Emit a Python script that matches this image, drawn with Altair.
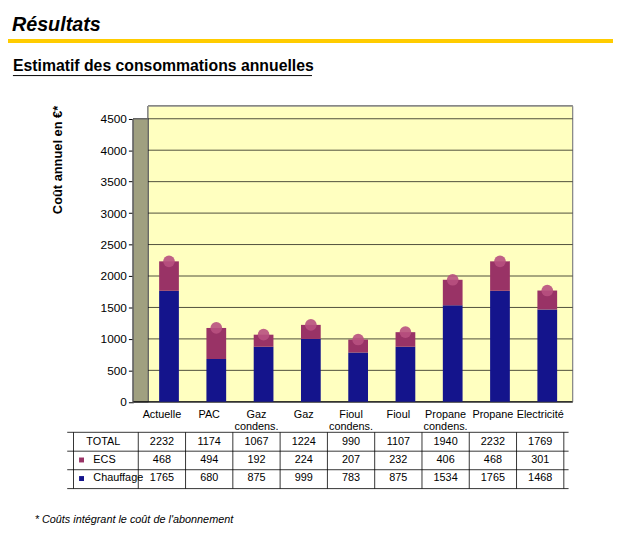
import pandas as pd
import altair as alt

categories = ['Actuelle', 'PAC', 'Gaz\ncondens.', 'Gaz', 'Fioul\ncondens.', 'Fioul',
              'Propane\ncondens.', 'Propane', 'Electricité']
total = [2232, 1174, 1067, 1224, 990, 1107, 1940, 2232, 1769]
ecs = [468, 494, 192, 224, 207, 232, 406, 468, 301]
chauffage = [1765, 680, 875, 999, 783, 875, 1534, 1765, 1468]

df = pd.DataFrame({
    'cat': categories,
    'pos': [i + 0.5 for i in range(9)],
    'barpos': [i + 0.65 for i in range(9)],
    'total': total,
    'ecs': ecs,
    'chauffage': chauffage,
})
df['top'] = df['chauffage'] + df['ecs']

W, H = 445, 427
FONT = 'Liberation Sans'
xs = alt.Scale(domain=[0, 9.08], nice=False, zero=False)
ys = alt.Scale(domain=[-2000, 4700], nice=False, zero=False)
base = alt.Chart(df)

wall = base.mark_rect(color='#FFFFC0', stroke='#888888').encode(
    x=alt.value(15), x2=alt.value(W), y=alt.datum(0, scale=ys), y2=alt.value(0))
side = base.mark_rect(color='#A0A080', stroke='#666666').encode(
    x=alt.value(0), x2=alt.value(15), y=alt.datum(0, scale=ys), y2=alt.value(13))
grid = alt.Chart(pd.DataFrame({'v': list(range(500, 4501, 500))})).mark_rule(
    color='black', strokeWidth=0.7).encode(
    y=alt.Y('v:Q', scale=ys), x=alt.value(15), x2=alt.value(W))
floor = alt.Chart(pd.DataFrame({'v': [0]})).mark_rule(color='black').encode(
    y=alt.Y('v:Q', scale=ys,
            axis=alt.Axis(values=list(range(0, 4501, 500)), title='Coût annuel  en €*',
                          format='d',
                          titleFont=FONT, titleFontSize=13, titleFontWeight='bold',
                          labelFont=FONT, labelFontSize=12, labelColor='black',
                          titleColor='black', grid=False, domain=False, tickColor='black',
                          titleY=54, titleX=-70)),
    x=alt.value(0), x2=alt.value(W))

heat = base.mark_bar(color='#14148C', size=20).encode(
    x=alt.X('barpos:Q', scale=xs, axis=None),
    y=alt.Y('chauffage:Q', scale=ys), y2=alt.datum(0))
hot = base.mark_bar(color='#993366', size=20).encode(
    x=alt.X('barpos:Q', scale=xs), y=alt.Y('top:Q', scale=ys), y2='chauffage:Q')
caps = base.mark_point(shape='circle', filled=True, color='#B8507F', size=140,
                       opacity=0.9).encode(
    x=alt.X('barpos:Q', scale=xs), y=alt.Y('top:Q', scale=ys))

labels = base.mark_text(font=FONT, fontSize=11, baseline='top', lineHeight=12).transform_calculate(
    lines="split(datum.cat, '\\n')").encode(
    x=alt.X('pos:Q', scale=xs), y=alt.datum(-120, scale=ys), text='lines:N')


def row(field, yv):
    return base.mark_text(font=FONT, fontSize=11).encode(
        x=alt.X('pos:Q', scale=xs), y=alt.datum(yv, scale=ys), text=f'{field}:Q')


rows = row('total', -640) + row('ecs', -925) + row('chauffage', -1220)

heads = alt.Chart(pd.DataFrame({
    'p': [-1.1, -0.95, -0.95], 'v': [-640, -925, -1220],
    't': ['TOTAL', 'ECS', 'Chauffage']})).mark_text(
    font=FONT, fontSize=11, align='left').encode(
    x=alt.X('p:Q', scale=xs), y=alt.Y('v:Q', scale=ys), text='t:N')
swatch = alt.Chart(pd.DataFrame({
    'p': [-1.2, -1.2], 'v': [-925, -1220], 'c': ['ECS', 'Chauffage']})).mark_square(
    size=25, opacity=1).encode(
    x=alt.X('p:Q', scale=xs), y=alt.Y('v:Q', scale=ys),
    color=alt.Color('c:N', scale=alt.Scale(domain=['ECS', 'Chauffage'],
                                           range=['#993366', '#14148C']), legend=None))

hl = alt.Chart(pd.DataFrame({'v': [-485, -785, -1080, -1380]})).mark_rule(
    color='black', strokeWidth=0.8).encode(
    y=alt.Y('v:Q', scale=ys), x=alt.value(-67), x2=alt.value(441))
vl = alt.Chart(pd.DataFrame({'p': [-1.37] + list(range(0, 10))})).mark_rule(
    color='black', strokeWidth=0.8).encode(
    x=alt.X('p:Q', scale=xs), y=alt.datum(-485, scale=ys), y2=alt.datum(-1380))

texts = alt.Chart(pd.DataFrame({'a': [0]}))
title = texts.mark_text(font=FONT, fontSize=20, fontWeight='bold', fontStyle='italic',
                        align='left').encode(
    x=alt.value(-123), y=alt.value(-82), text=alt.value('Résultats'))
bar_line = texts.mark_rule(color='#FFCC00', strokeWidth=4).encode(
    x=alt.value(-135), x2=alt.value(486), y=alt.value(-66))
sub = texts.mark_text(font=FONT, fontSize=16, fontWeight='bold', align='left').encode(
    x=alt.value(-122), y=alt.value(-41), text=alt.value('Estimatif des consommations annuelles'))
underline = texts.mark_rule(color='black', strokeWidth=1).encode(
    x=alt.value(-122), x2=alt.value(181), y=alt.value(-31))
foot = texts.mark_text(font=FONT, fontSize=11, fontStyle='italic', align='left').encode(
    x=alt.value(-100), y=alt.datum(-1880, scale=ys),
    text=alt.value("* Coûts intégrant le coût de l'abonnement"))

chart = alt.layer(
    wall, side, grid, floor, heat, hot, caps, labels, rows, hl, vl, heads, swatch,
    title, bar_line, sub, underline, foot
).properties(
    width=W, height=H, autosize='none',
    padding={'left': 127, 'top': 96, 'right': 41, 'bottom': 2},
    background='white'
).configure_view(stroke=None)

chart.save("out.html", embed_options={"renderer": "svg", "actions": False})
